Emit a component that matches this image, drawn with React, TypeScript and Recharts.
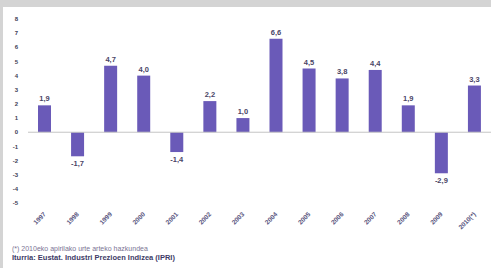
import { BarChart, Bar, XAxis, YAxis, ReferenceLine, LabelList } from "recharts";

const years = ["1997", "1998", "1999", "2000", "2001", "2002", "2003", "2004", "2005", "2006", "2007", "2008", "2009", "2010(*)"];
const growth = [1.9, -1.7, 4.7, 4.0, -1.4, 2.2, 1.0, 6.6, 4.5, 3.8, 4.4, 1.9, -2.9, 3.3];
const yTicks = [-5, -4, -3, -2, -1, 0, 1, 2, 3, 4, 5, 6, 7, 8];
const footnote = "(*) 2010eko apirilako urte arteko hazkundea";
const source = "Iturria: Eustat. Industri Prezioen Indizea (IPRI)";

const data = years.map((year, i) => ({ year, value: growth[i] }));

const fmt = (v: number) => v.toFixed(1).replace(".", ",");

function XTick(props: any) {
  const { x, y, payload } = props;
  return (
    <text
      x={x}
      y={y}
      transform={`rotate(-45, ${x}, ${y})`}
      textAnchor="end"
      dominantBaseline="central"
      fontSize={6.5}
      fontWeight={700}
      fill="#5a5680"
    >
      {payload.value}
    </text>
  );
}

function ValueLabel(props: any) {
  const { x, y, width, height, value } = props;
  const neg = value < 0;
  const top = Math.min(y, y + height);
  const bottom = Math.max(y, y + height);
  const ly = neg ? bottom + 4 : top - 4;
  return (
    <text
      x={x + width / 2}
      y={ly}
      textAnchor="middle"
      dominantBaseline={neg ? "hanging" : "auto"}
      fontSize={7.5}
      fontWeight={700}
      fill="#4a4566"
    >
      {fmt(value)}
    </text>
  );
}

export default function App() {
  return (
    <div style={{ position: "absolute", left: 0, top: 0, width: 491, height: 268, background: "#d4d4d4", fontFamily: "'Liberation Sans', Arial, sans-serif" }}>
      <div style={{ position: "absolute", left: 3, top: 7, width: 488, height: 261, background: "#ffffff" }} />
      <div style={{ position: "absolute", left: 0, top: 0 }}>
        <BarChart width={491} height={268} data={data} margin={{ top: 19, right: 0, bottom: 20, left: 5 }} barSize={13}>
          <YAxis
            type="number"
            domain={[-5, 8]}
            ticks={yTicks}
            interval={0}
            width={23}
            axisLine={false}
            tickLine={false}
            tickMargin={4}
            tick={{ fontSize: 6, fontWeight: 700, fill: "#3d3d55" }}
          />
          <XAxis
            dataKey="year"
            interval={0}
            axisLine={false}
            tickLine={false}
            height={45}
            tick={<XTick />}
            tickMargin={4}
          />
          <ReferenceLine y={0} stroke="#c4c4c4" strokeWidth={1} />
          <Bar dataKey="value" fill="#6a5ab8" isAnimationActive={false}>
            <LabelList dataKey="value" content={<ValueLabel />} />
          </Bar>
        </BarChart>
      </div>
      <div style={{ position: "absolute", left: 12, top: 245, fontSize: 7, color: "#7a7494", whiteSpace: "nowrap", lineHeight: "8px" }}>
        {footnote}
      </div>
      <div style={{ position: "absolute", left: 12, top: 254, fontSize: 7.5, fontWeight: 700, color: "#3d3a66", whiteSpace: "nowrap", lineHeight: "8px" }}>
        {source}
      </div>
    </div>
  );
}
